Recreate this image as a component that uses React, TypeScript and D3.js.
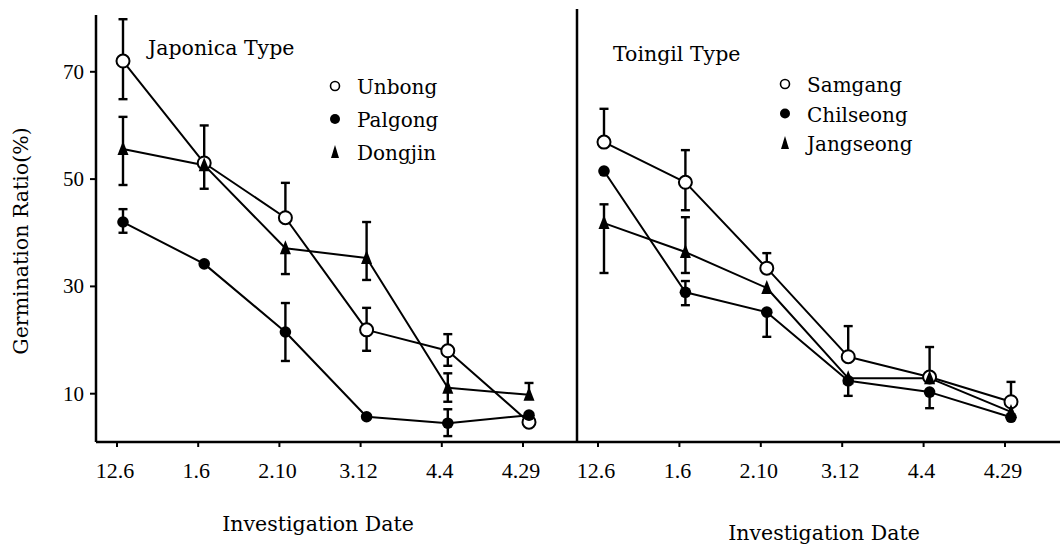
import * as d3 from 'd3';

// investigation dates (x categories), shared by both panels
const dates = ['12.6', '1.6', '2.10', '3.12', '4.4', '4.29'];
const yTicks = [10, 30, 50, 70];

// Japonica type — germination ratio (%), error bar ends (null = not drawn)
const unbong = [72.0, 53.0, 42.8, 21.9, 18.0, 4.7];
const unbongHi = [79.8, 60.0, 49.3, 26.0, 21.1, null];
const unbongLo = [64.9, 48.2, null, 18.0, 15.2, null];
const palgong = [42.0, 34.2, 21.5, 5.7, 4.5, 6.0];
const palgongHi = [44.4, null, 26.9, null, 7.1, null];
const palgongLo = [40.0, null, 16.1, null, 2.1, null];
const dongjin = [55.6, 52.6, 37.1, 35.3, 11.1, 9.8];
const dongjinHi = [61.6, null, null, 42.0, 13.8, 12.0];
const dongjinLo = [48.9, null, 32.3, 31.2, 8.5, null];

// Toingil type
const samgang = [56.9, 49.4, 33.4, 16.9, 13.1, 8.5];
const samgangHi = [63.1, 55.4, 36.2, 22.6, 18.7, 12.2];
const samgangLo = [null, 44.2, null, null, null, null];
const chilseong = [51.5, 28.9, 25.2, 12.4, 10.3, 5.6];
const chilseongHi = [null, 31.0, null, null, null, null];
const chilseongLo = [null, 26.5, 20.6, 9.6, 7.3, null];
const jangseong = [41.8, 36.4, 29.7, 12.9, 12.9, 6.6];
const jangseongHi = [45.3, 42.9, null, null, null, null];
const jangseongLo = [32.5, 32.5, null, null, null, null];

type Marker = 'open' | 'filled' | 'triangle';
type Series = {
  name: string;
  marker: Marker;
  values: number[];
  hi: (number | null)[];
  lo: (number | null)[];
};

const japonica: Series[] = [
  { name: 'Unbong', marker: 'open', values: unbong, hi: unbongHi, lo: unbongLo },
  { name: 'Palgong', marker: 'filled', values: palgong, hi: palgongHi, lo: palgongLo },
  { name: 'Dongjin', marker: 'triangle', values: dongjin, hi: dongjinHi, lo: dongjinLo },
];
const toingil: Series[] = [
  { name: 'Samgang', marker: 'open', values: samgang, hi: samgangHi, lo: samgangLo },
  { name: 'Chilseong', marker: 'filled', values: chilseong, hi: chilseongHi, lo: chilseongLo },
  { name: 'Jangseong', marker: 'triangle', values: jangseong, hi: jangseongHi, lo: jangseongLo },
];

const W = 1060;
const H = 545;
const axisY = 442;
const serif = '"DejaVu Serif", serif';
const numFont = '"Liberation Serif", serif';

const y = d3.scaleLinear().domain([10, 70]).range([393.7, 71.8]);

function MarkerShape({ kind, cx, cy, small = false }: { kind: Marker; cx: number; cy: number; small?: boolean }) {
  if (kind === 'open') {
    return <circle cx={cx} cy={cy} r={small ? 4.5 : 6.5} fill="#fff" stroke="#000" strokeWidth={small ? 1.6 : 2} />;
  }
  if (kind === 'filled') {
    return <circle cx={cx} cy={cy} r={small ? 5 : 5.8} fill="#000" />;
  }
  const tri = small ? 'M0,-7L4,6L-4,6Z' : 'M0,-8L5.5,6L-5.5,6Z';
  return <path d={tri} transform={`translate(${cx},${cy})`} fill="#000" />;
}

type PanelProps = {
  series: Series[];
  range: [number, number];
  title: string;
  titleX: number;
  titleY: number;
  legendX: number;
  legendY: number;
  legendStep: number;
  xTitleX: number;
  xTitleY: number;
};

function Panel({ series, range, title, titleX, titleY, legendX, legendY, legendStep, xTitleX, xTitleY }: PanelProps) {
  const x = d3.scalePoint<string>().domain(dates).range(range);
  const line = d3
    .line<number>()
    .x((_, i) => x(dates[i]) as number)
    .y((v) => y(v));
  const cap = 4.5;

  return (
    <g>
      {/* x ticks + labels */}
      {dates.map((d) => {
        const tx = (x(d) as number) - 6;
        return (
          <g key={d}>
            <line x1={tx} x2={tx} y1={axisY} y2={axisY + 5} stroke="#000" strokeWidth={2} />
            <text x={tx - 2} y={478} textAnchor="middle" fontFamily={numFont} fontSize={22}>
              {d}
            </text>
          </g>
        );
      })}
      <text x={xTitleX} y={xTitleY} textAnchor="middle" fontFamily={serif} fontSize={20.5}>
        Investigation Date
      </text>

      {/* lines */}
      {series.map((s) => (
        <path key={s.name} d={line(s.values) as string} fill="none" stroke="#000" strokeWidth={2} strokeLinejoin="round" />
      ))}

      {/* error bars */}
      {series.map((s) =>
        s.values.map((v, i) => {
          const cx = x(dates[i]) as number;
          const ends = [s.hi[i], s.lo[i]].filter((e) => e != null) as number[];
          return ends.map((e, j) => (
            <g key={`${s.name}-${i}-${j}`} stroke="#000" strokeWidth={2.4}>
              <line x1={cx} x2={cx} y1={y(v)} y2={y(e)} />
              <line x1={cx - cap} x2={cx + cap} y1={y(e)} y2={y(e)} />
            </g>
          ));
        })
      )}

      {/* markers */}
      {series.map((s) =>
        s.values.map((v, i) => <MarkerShape key={`${s.name}-m-${i}`} kind={s.marker} cx={x(dates[i]) as number} cy={y(v)} />)
      )}

      {/* title */}
      <text x={titleX} y={titleY} fontFamily={serif} fontSize={20.5}>
        {title}
      </text>

      {/* legend */}
      {series.map((s, i) => (
        <g key={`leg-${s.name}`} transform={`translate(${legendX},${legendY + i * legendStep})`}>
          <MarkerShape kind={s.marker} cx={0} cy={-8} small />
          <text x={22} y={0} fontFamily={serif} fontSize={20}>
            {s.name}
          </text>
        </g>
      ))}
    </g>
  );
}

export default function App() {
  return (
    <svg
      width={W}
      height={H}
      viewBox={`0 0 ${W} ${H}`}
      style={{ position: 'absolute', left: 0, top: 0, background: '#fff' }}
    >
      <rect width={W} height={H} fill="#fff" />

      {/* y axis */}
      <line x1={96} x2={96} y1={15} y2={axisY} stroke="#000" strokeWidth={2.5} />
      {yTicks.map((t) => (
        <g key={t}>
          <line x1={90} x2={96} y1={y(t)} y2={y(t)} stroke="#000" strokeWidth={2} />
          <text x={84} y={y(t) + 7} textAnchor="end" fontFamily={numFont} fontSize={21}>
            {t}
          </text>
        </g>
      ))}
      <text transform="translate(28,241) rotate(-90)" textAnchor="middle" fontFamily={serif} fontSize={20.5}>
        Germination Ratio(%)
      </text>

      {/* x axis and panel divider */}
      <line x1={96} x2={W} y1={axisY} y2={axisY} stroke="#000" strokeWidth={2.5} />
      <line x1={577} x2={577} y1={9} y2={axisY} stroke="#000" strokeWidth={2.5} />

      <Panel
        series={japonica}
        range={[123, 529]}
        title="Japonica Type"
        titleX={148}
        titleY={55}
        legendX={335}
        legendY={94}
        legendStep={33}
        xTitleX={318}
        xTitleY={531}
      />
      <Panel
        series={toingil}
        range={[604, 1011]}
        title="Toingil Type"
        titleX={613}
        titleY={61}
        legendX={785}
        legendY={92}
        legendStep={29.5}
        xTitleX={824}
        xTitleY={540}
      />
    </svg>
  );
}
